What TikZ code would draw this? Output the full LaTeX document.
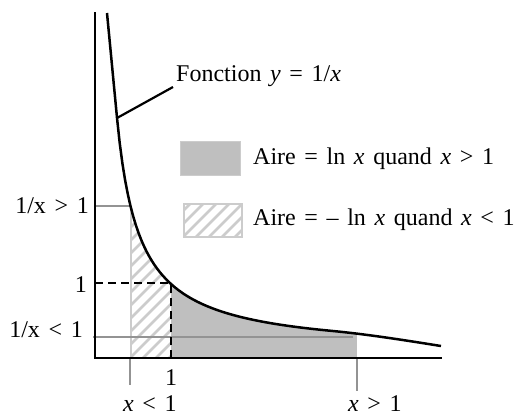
\documentclass[tikz,border=0pt]{standalone}
\usepackage{fontspec}
\setmainfont{Liberation Serif}
\newcommand{\widespaces}{\spaceskip=0.36em\relax}
\begin{document}
\begin{tikzpicture}[x=1bp,y=-1bp,
  lbl/.style={inner sep=0pt, font=\fontsize{24bp}{28bp}\selectfont, execute at begin node=\widespaces},
  axisline/.style={line width=2.5bp, black},
  curveline/.style={line width=2.5bp, black},
  guide/.style={line width=2bp, color=gray!85},
  dashguide/.style={line width=2.2bp, black, dash pattern=on 8bp off 5bp},
  hatchline/.style={line width=2.6bp, color=black!20},
  hyp/.style={domain=117:330, samples=80, variable=\t}
]
\useasboundingbox (0,0) rectangle (520,416);
% gray area x>1 and hatched area x<1
\begin{scope}
  \clip (107,13) -- plot[hyp] ({\t},{353.2-5297/(\t-94.5)}) .. controls (367,334.2) and (404,340.1) .. (441,346) -- (441,358) -- (95,358) -- cycle;
  \fill[black!25] (171,0) rectangle (357,358);
  \clip (130,0) rectangle (171,358);
  \foreach \k in {-20,...,20} {
    \draw[hatchline] (130+\k*13,358) -- ++(300,-300);
  }
\end{scope}
\draw[hatchline,line width=2bp] (130.5,206) -- (130.5,358);
% legend boxes
\node[fill=black!25, draw=black!20, line width=0.8bp, minimum width=60bp, minimum height=34bp, inner sep=0pt] (leg1) at (210,158) {};
\begin{scope}
  \clip (183,203) rectangle (242,237);
  \foreach \k in {-6,...,6} {
    \draw[hatchline] (183+\k*13,237) -- ++(60,-60);
  }
\end{scope}
\node[draw=black!20, line width=2bp, minimum width=58bp, minimum height=33bp, inner sep=0pt] (leg2) at (212.5,220) {};
% guide lines
\coordinate (y1a) at (95,206);
\coordinate (y1b) at (131,206);
\draw[guide] (y1a) -- (y1b);
\coordinate (y2a) at (93,337);
\coordinate (y2b) at (353,337);
\draw[guide] (y2a) -- (y2b);
\coordinate (t1a) at (129.5,358);
\coordinate (t1b) at (129.5,385);
\draw[guide] (t1a) -- (t1b);
\coordinate (t2a) at (357,358);
\coordinate (t2b) at (357,391);
\draw[guide] (t2a) -- (t2b);
% dashed lines
\coordinate (d0) at (95,283);
\coordinate (d1) at (171,283);
\coordinate (d2) at (171,358);
\draw[dashguide] (d0) -- (d1) -- (d2);
% curve
\draw[curveline, line join=round] (107,13) -- plot[hyp] ({\t},{353.2-5297/(\t-94.5)}) .. controls (367,334.2) and (404,340.1) .. (441,346);
% axes
\coordinate (ytop) at (95,12);
\coordinate (orig) at (95,358);
\coordinate (xend) at (442,358);
\draw[axisline, line join=miter] (ytop) -- (orig) -- (xend);
% labels
\node[lbl, anchor=base west] (fonc) at (176,81) {Fonction \textit{y} = 1/\textit{x}};
\coordinate (cpt) at (117,118);
\draw[line width=2.2bp] (cpt) -- ([xshift=-3bp,yshift=-6bp]fonc.base west);
\node[lbl, anchor=base west] (l1) at (253,164) {Aire = ln \textit{x} quand \textit{x} > 1};
\node[lbl, anchor=base west] (l2) at (253,225) {Aire = – ln \textit{x} quand \textit{x} < 1};
\node[lbl, anchor=base east] (a1) at (89,213) {1/x > 1};
\node[lbl, anchor=base east] (a2) at (87,292) {1};
\node[lbl, anchor=base east] (a3) at (83,337) {1/x < 1};
\node[lbl, anchor=base] (b1) at (171,385) {1};
\node[lbl, anchor=base west] (b2) at (123,411) {\textit{x} < 1};
\node[lbl, anchor=base west] (b3) at (348,411) {\textit{x} > 1};
\end{tikzpicture}
\end{document}
